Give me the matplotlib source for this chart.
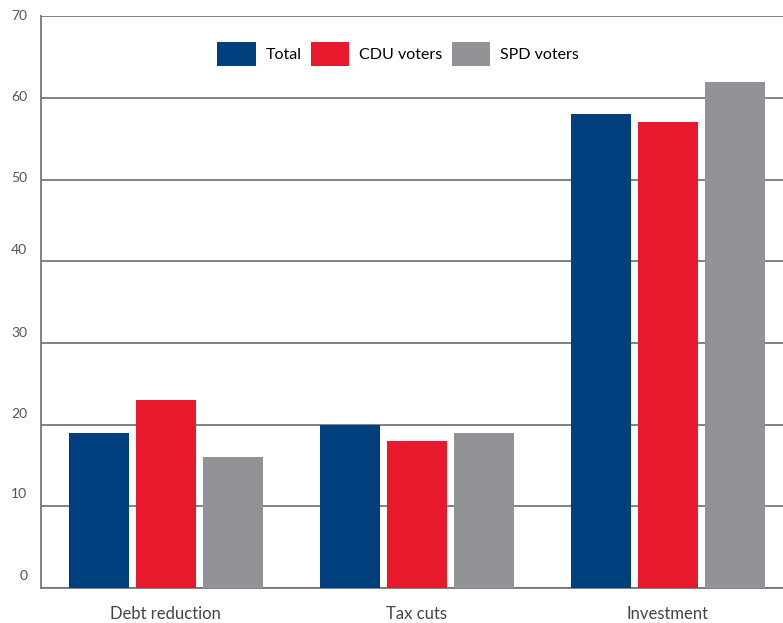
import numpy as np
import matplotlib
matplotlib.use('Agg')
import matplotlib.pyplot as plt
import matplotlib.transforms as mtransforms

plt.rcParams['font.family'] = ['Lato', 'DejaVu Sans']

categories = ['Debt reduction', 'Tax cuts', 'Investment']
series = ['Total', 'CDU voters', 'SPD voters']
total = [19, 20, 58]
cdu = [23, 18, 57]
spd = [16, 19, 62]
yticks = [0, 10, 20, 30, 40, 50, 60, 70]

colors = ['#003f7d', '#e8192c', '#929396']

fig = plt.figure(figsize=(7.83, 6.23), dpi=100)
ax = fig.add_axes([0.0524, 0.056, 0.9476, 0.918])

x = np.arange(len(categories))
w = 0.239
step = 0.267
for i, (vals, lab) in enumerate(zip([total, cdu, spd], series)):
    ax.bar(x + (i - 1) * step, vals, w, color=colors[i], label=lab, zorder=3)

ax.set_xlim(-0.496, 2.46)
ax.set_ylim(0, 70)
ax.set_yticks(yticks)
ax.set_xticks(x)
ax.set_xticklabels(categories, fontsize=12, color='#444444')
ax.tick_params(axis='y', length=0, pad=10, labelsize=10, labelcolor='#555555')
ax.tick_params(axis='x', length=0, pad=13)
ax.yaxis.grid(True, color='#777777', linewidth=1.3, zorder=0)

# the y labels in the original sit a little above their lines, unevenly
lift = [13, 13, 12, 11, 12, 3, 2, 1]
for lbl, dy in zip(ax.get_yticklabels(), lift):
    lbl.set_transform(lbl.get_transform() +
                      mtransforms.ScaledTranslation(0, dy / 100, fig.dpi_scale_trans))

for s in ['top', 'right']:
    ax.spines[s].set_visible(False)
ax.spines['left'].set_color('#777777')
ax.spines['left'].set_linewidth(1.3)
ax.spines['bottom'].set_color('#777777')
ax.spines['bottom'].set_linewidth(1.3)

ax.legend(loc='upper center', bbox_to_anchor=(0.481, 0.98), ncol=3, frameon=False,
          fontsize=11.5, handlelength=2.4, handleheight=1.9, handletextpad=0.6,
          columnspacing=0.6)

plt.savefig('out.png', dpi=100)
